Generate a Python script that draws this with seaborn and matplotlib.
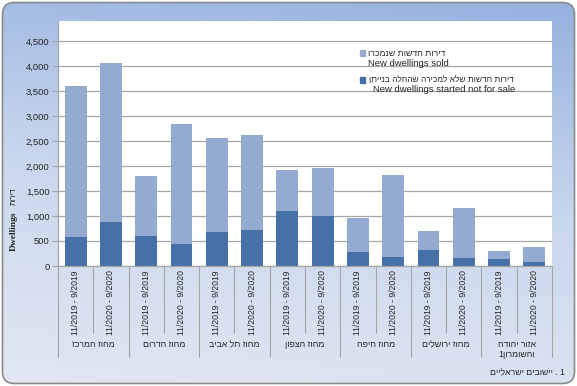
"""
New dwellings by district: sold vs. started not for sale (stacked bars).
Output: out.png
"""

import numpy as np
import pandas as pd
import matplotlib
matplotlib.use("Agg")
import matplotlib.pyplot as plt
import seaborn as sns
from matplotlib.patches import FancyBboxPatch, Rectangle
from matplotlib.colors import LinearSegmentedColormap
from matplotlib.ticker import StrMethodFormatter
from matplotlib.transforms import blended_transform_factory

DISTRICTS = ['מחוז המרכז', 'מחוז הדרום', 'מחוז תל אביב', 'מחוז הצפון',
             'מחוז חיפה', 'מחוז ירושלים', 'אזור יהודה\nוהשומרון1']
PERIODS = ['11/2019 - 9/2019', '11/2020 - 9/2020']

# per bar, district by district, period by period
NOT_FOR_SALE = [590, 880, 610, 450, 690, 720, 1100, 1010, 280, 190, 330, 170, 140, 80]
SOLD = [3010, 3190, 1190, 2390, 1870, 1910, 830, 950, 690, 1630, 370, 990, 160, 310]

Y_TICKS = [0, 500, 1000, 1500, 2000, 2500, 3000, 3500, 4000, 4500]

SERIES_HE = ['דירות חדשות שנמכרו', 'דירות חדשות שלא למכירה שהחלה בנייתן']
SERIES_EN = ['New dwellings sold', 'New dwellings started not for sale']
FOOTNOTE = 'יישובים ישראליים'

LIGHT = '#94aad0'
DARK = '#4571a8'
TXT = '#262626'
GRID = '#a6a6a6'


def vis(s):
    # matplotlib has no bidi: lay Hebrew out in visual order
    return '\n'.join(line[::-1] for line in s.split('\n'))


def main():
    sns.set_style("white")
    plt.rcParams['font.family'] = ['Liberation Sans', 'DejaVu Sans']
    fs = 6.8
    fs_he = 6.0

    bar_ids = [f"{d}|{p}" for d in DISTRICTS for p in PERIODS]
    df = pd.DataFrame({
        'bar': bar_ids,
        'dark': NOT_FOR_SALE,
        'sold': SOLD,
    })
    df['total'] = df['dark'] + df['sold']

    W, H = 577, 386
    fig = plt.figure(figsize=(W / 100, H / 100), dpi=100)

    # background frame with gradient
    ax_bg = fig.add_axes([0, 0, 1, 1], zorder=-5)
    ax_bg.set_xlim(0, W)
    ax_bg.set_ylim(0, H)
    ax_bg.axis('off')
    gx, gy = np.meshgrid(np.linspace(0, 1, 200), np.linspace(0, 1, 200))
    grad = 0.85 * gy + 0.15 * gx
    cmap_bg = LinearSegmentedColormap.from_list('bg', ['#e2e8f2', '#cad8ee', '#95b1df'])
    frame = FancyBboxPatch((2.5, 2.5), W - 5, H - 5,
                           boxstyle="round,pad=0,rounding_size=12",
                           facecolor='none', edgecolor='#8a8a8a', lw=1.2, zorder=2)
    ax_bg.add_patch(frame)
    im = ax_bg.imshow(grad, extent=[0, W, 0, H], origin='lower', cmap=cmap_bg,
                      aspect='auto', zorder=1)
    im.set_clip_path(frame)

    ax = fig.add_axes([58 / W, 1 - 266 / H, 494 / W, 245 / H])
    ax.set_facecolor('white')
    sns.barplot(data=df, x='bar', y='total', color=LIGHT, saturation=1,
                width=0.62, linewidth=0, ax=ax)
    sns.barplot(data=df, x='bar', y='dark', color=DARK, saturation=1,
                width=0.62, linewidth=0, ax=ax)

    ax.set_xlim(-0.5, len(bar_ids) - 0.5)
    ax.set_ylim(0, 4900)
    ax.set_yticks(Y_TICKS)
    ax.yaxis.set_major_formatter(StrMethodFormatter('{x:,.0f}'))
    ax.yaxis.grid(True, color=GRID, lw=0.9)
    ax.set_axisbelow(True)
    ax.set_xlabel('')
    ax.set_ylabel('')

    ax.set_xticks(range(len(bar_ids)))
    ax.set_xticklabels(PERIODS * len(DISTRICTS), rotation=90, fontsize=6.2, color=TXT)
    ax.tick_params(axis='x', length=0, pad=3)
    ax.tick_params(axis='y', length=4, width=0.8, color=GRID, pad=2,
                   labelsize=fs, labelcolor=TXT, left=True)

    for side in ['top', 'right']:
        ax.spines[side].set_visible(False)
    for side in ['left', 'bottom']:
        ax.spines[side].set_color(GRID)
        ax.spines[side].set_linewidth(0.9)

    # multi-level category axis
    trans = blended_transform_factory(ax.transData, ax.transAxes)
    n_groups = len(DISTRICTS)
    for g in range(n_groups + 1):
        b = 2 * g - 0.5
        ax.plot([b, b], [0, -0.371], transform=trans, clip_on=False,
                color=GRID, lw=0.8)
    for g in range(n_groups):
        m = 2 * g + 0.5
        ax.plot([m, m], [0, -0.273], transform=trans, clip_on=False,
                color=GRID, lw=0.8)
        ax.text(m, -0.302, vis(DISTRICTS[g]), transform=trans, ha='center',
                va='top', fontsize=6.3, color=TXT, linespacing=1.15)

    # legend
    fig.add_artist(Rectangle((360 / W, 1 - 55.5 / H), 5 / W, 5 / H,
                             transform=fig.transFigure, color=LIGHT))
    fig.text(368 / W, 1 - 53 / H, vis(SERIES_HE[0]), ha='left', va='center',
             fontsize=6.3, color=TXT)
    fig.text(368 / W, 1 - 63 / H, SERIES_EN[0], ha='left', va='center',
             fontsize=fs, color=TXT)
    fig.add_artist(Rectangle((360 / W, 1 - 82.5 / H), 5 / W, 5 / H,
                             transform=fig.transFigure, color=DARK))
    fig.text(514 / W, 1 - 80 / H, vis(SERIES_HE[1]), ha='right', va='center',
             fontsize=fs_he, color=TXT)
    fig.text(515 / W, 1 - 90 / H, SERIES_EN[1], ha='right', va='center',
             fontsize=fs, color=TXT)

    # axis title
    fig.text(14 / W, 1 - 231 / H, 'Dwellings', rotation=90, ha='center', va='center',
             fontsize=6.8, fontweight='bold', family=['Liberation Serif', 'DejaVu Serif'],
             color=TXT)
    fig.text(14 / W, 1 - 196 / H, vis('דירות'), rotation=90, ha='center', va='center',
             fontsize=5.5, color=TXT)

    # footnote
    fig.text(565 / W, 1 - 373 / H, vis(FOOTNOTE) + ' . 1', ha='right', va='center',
             fontsize=6.3, color=TXT)

    fig.savefig('out.png', dpi=100)
    plt.close(fig)


if __name__ == "__main__":
    main()
